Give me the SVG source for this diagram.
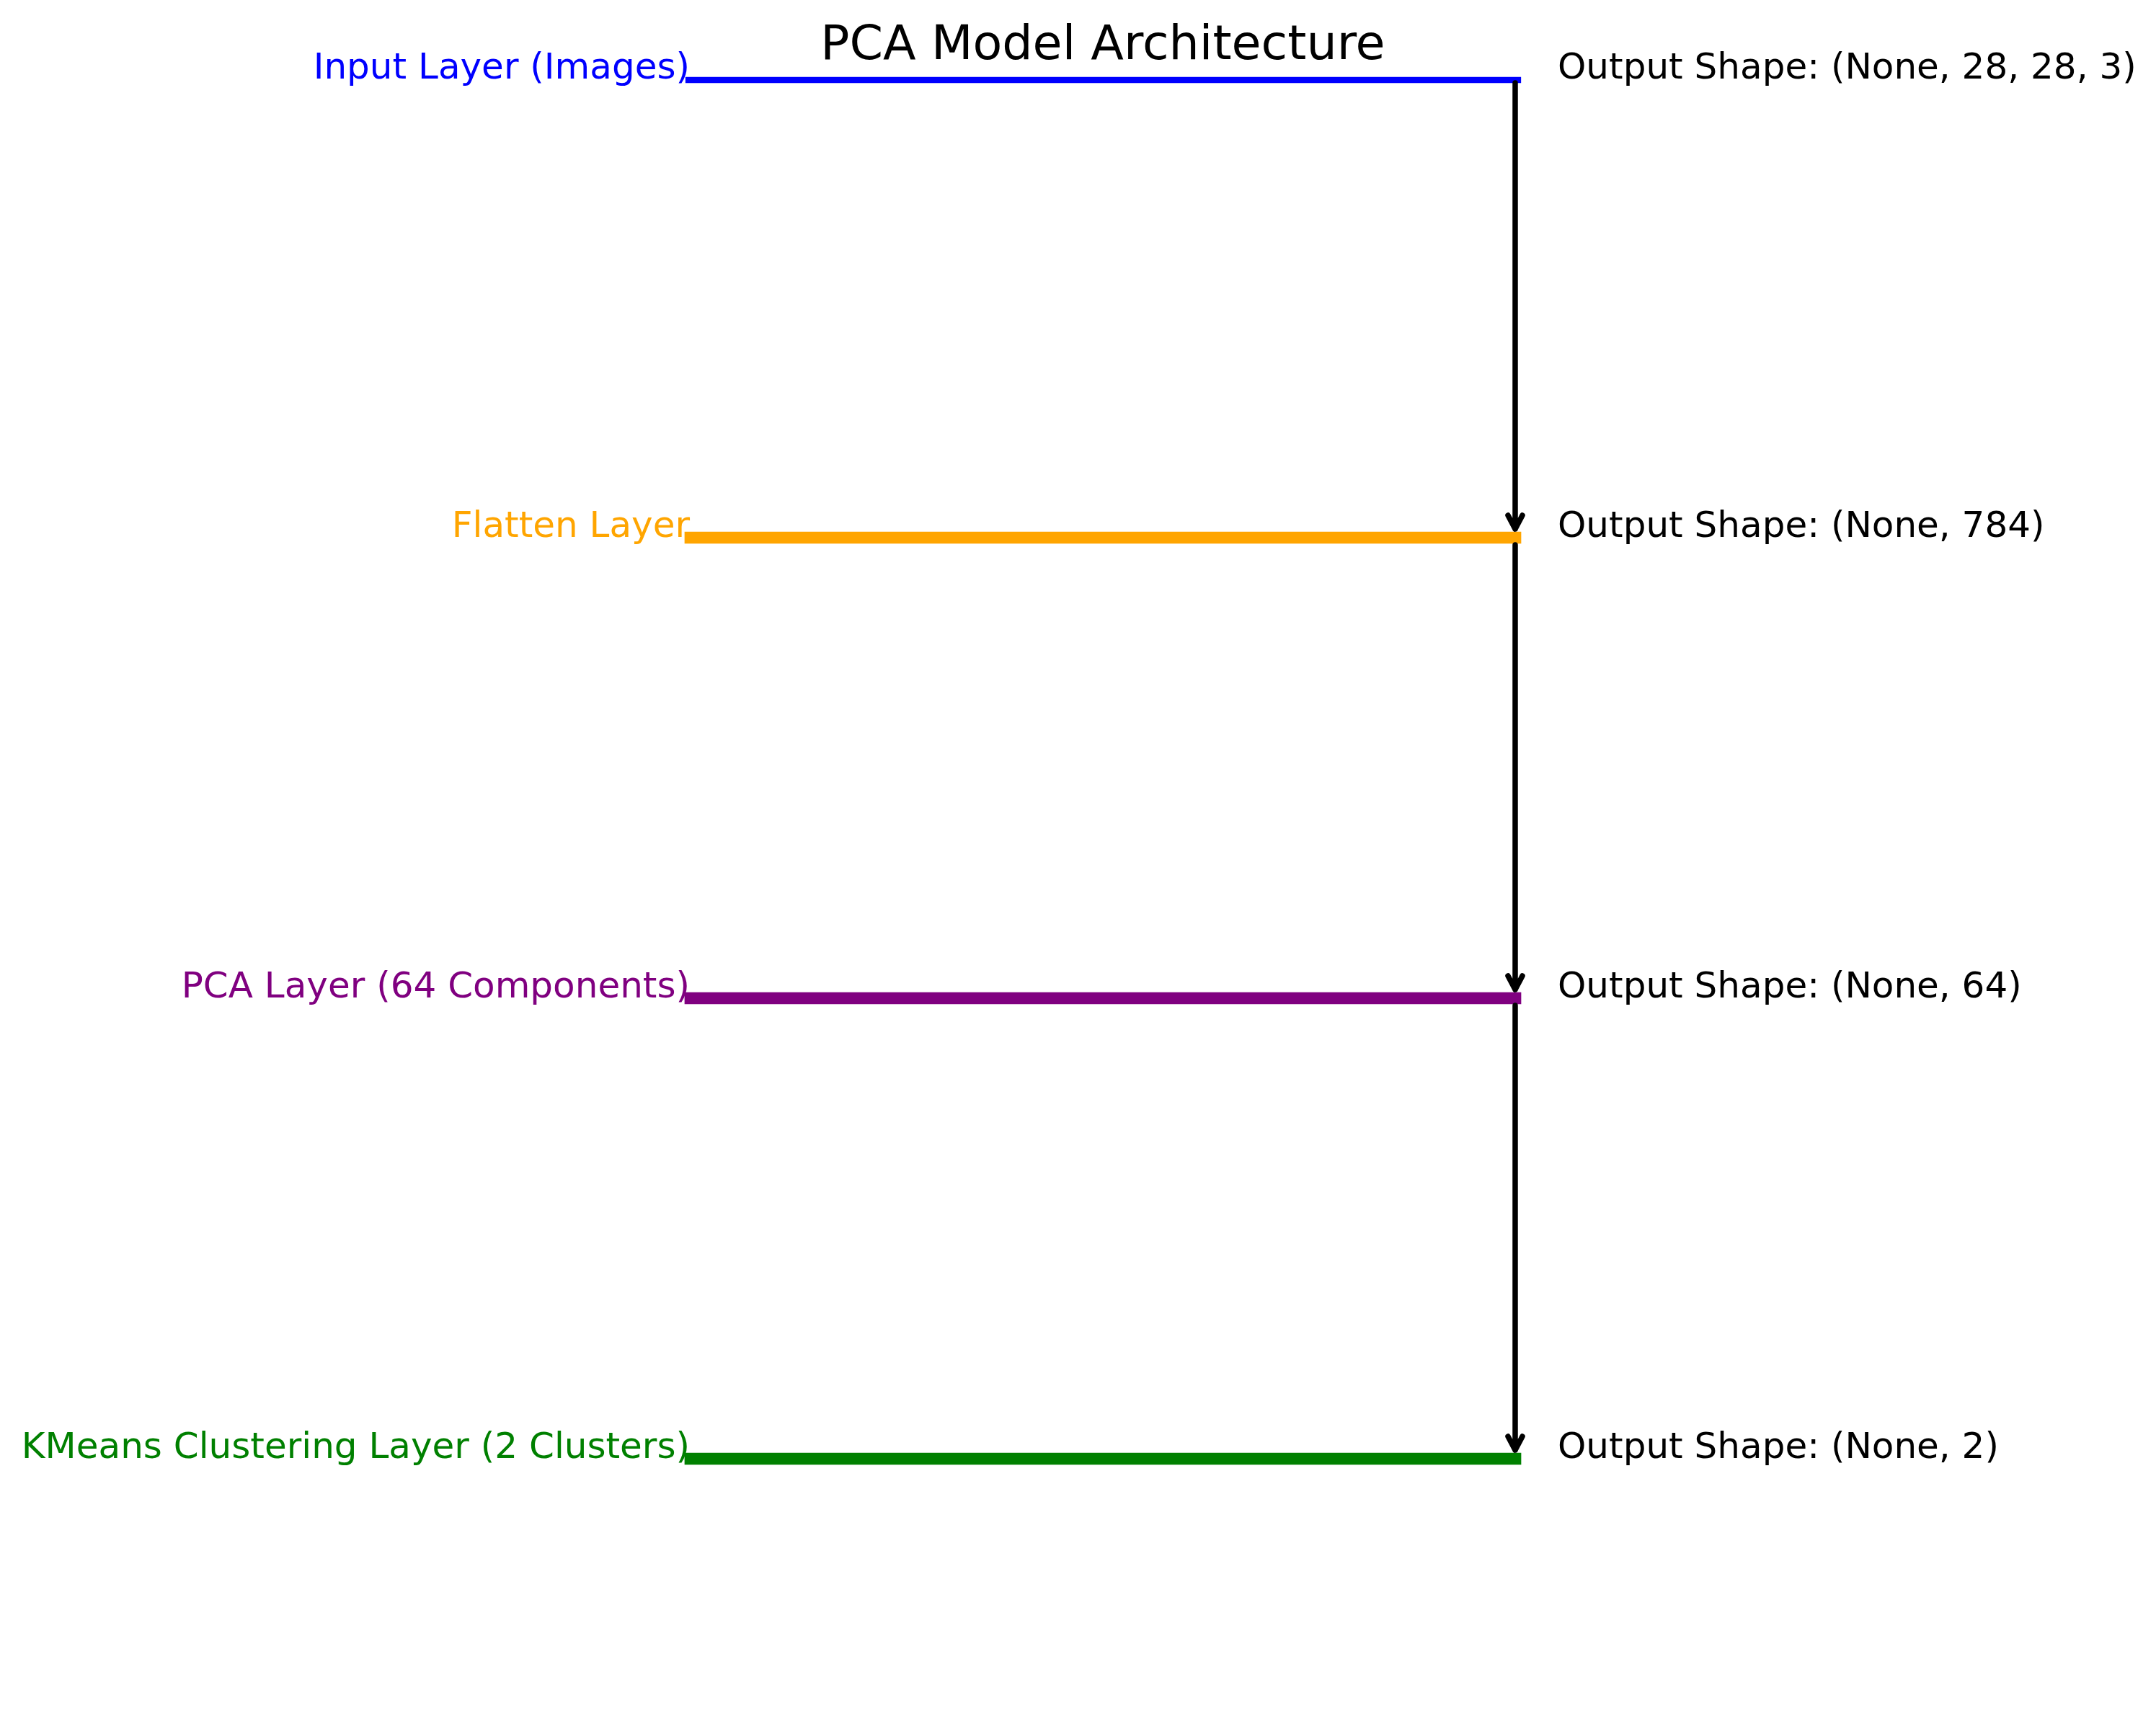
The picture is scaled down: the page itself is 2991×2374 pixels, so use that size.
<svg xmlns="http://www.w3.org/2000/svg" width="2991" height="2374" viewBox="0 0 2991 2374">
<style>
text{font-family:"DejaVu Sans","Liberation Sans",sans-serif;font-size:50px}
.lbl{text-anchor:end}
.out{fill:#000}
.title{font-size:66.7px;text-anchor:middle;fill:#000}
.layer{stroke-linecap:square;fill:none}
.arr{stroke:#000;stroke-width:7.5;fill:none;stroke-linejoin:round;stroke-linecap:round}
</style>
<rect width="2991" height="2374" fill="#fff"/>
<text class="title" x="1530" y="82">PCA Model Architecture</text>
<g id="input-layer">
<line class="layer" x1="955" y1="111" x2="2106" y2="111" stroke="#0000ff" stroke-width="8.3"/>
<text class="lbl" x="957" y="109" fill="#0000ff">Input Layer (Images)</text>
<text class="out" x="2161" y="109">Output Shape: (None, 28, 28, 3)</text>
</g>
<g id="flatten-layer">
<line class="layer" x1="958" y1="746" x2="2102" y2="746" stroke="#ffa500" stroke-width="16.7"/>
<text class="lbl" x="957" y="745" fill="#ffa500">Flatten Layer</text>
<text class="out" x="2161" y="745">Output Shape: (None, 784)</text>
</g>
<g id="pca-layer">
<line class="layer" x1="958" y1="1385" x2="2102" y2="1385" stroke="#800080" stroke-width="16.7"/>
<text class="lbl" x="957" y="1384" fill="#800080">PCA Layer (64 Components)</text>
<text class="out" x="2161" y="1384">Output Shape: (None, 64)</text>
</g>
<g id="kmeans-layer">
<line class="layer" x1="958" y1="2024" x2="2102" y2="2024" stroke="#008000" stroke-width="16.7"/>
<text class="lbl" x="957" y="2023" fill="#008000">KMeans Clustering Layer (2 Clusters)</text>
<text class="out" x="2161" y="2023">Output Shape: (None, 2)</text>
</g>
<g id="connectors">
<path class="arr" d="M2102 115 V734 M2092 715 L2102 734 L2112 715"/>
<path class="arr" d="M2102 756 V1373 M2092 1354 L2102 1373 L2112 1354"/>
<path class="arr" d="M2102 1395 V2012 M2092 1993 L2102 2012 L2112 1993"/>
</g>
</svg>
